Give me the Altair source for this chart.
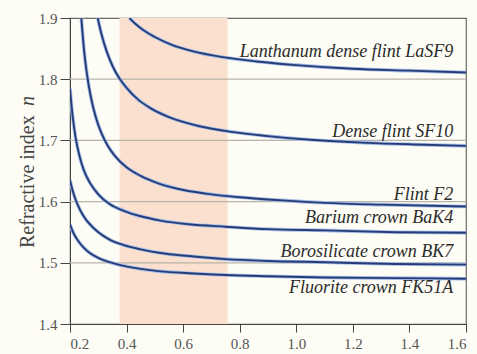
import altair as alt
import pandas as pd

# ---- data (wavelength in µm, refractive index n) ----
glasses = ["LaSF9", "SF10", "F2", "BaK4", "BK7", "FK51A"]

lasf9_x = [0.410, 0.43, 0.46, 0.50, 0.56, 0.64, 0.74, 0.86, 1.00, 1.20, 1.40, 1.60]
lasf9_n = [1.900, 1.891, 1.880, 1.869, 1.856, 1.845, 1.836, 1.829, 1.823, 1.817, 1.814, 1.811]

sf10_x = [0.298, 0.31, 0.33, 0.35, 0.375, 0.40, 0.44, 0.48, 0.55, 0.65, 0.77, 0.90, 1.05, 1.25, 1.45, 1.60]
sf10_n = [1.900, 1.876, 1.845, 1.822, 1.801, 1.786, 1.767, 1.754, 1.738, 1.724, 1.714, 1.707, 1.701, 1.696, 1.693, 1.691]

f2_x = [0.240, 0.25, 0.26, 0.275, 0.29, 0.31, 0.335, 0.36, 0.40, 0.45, 0.50, 0.58, 0.68, 0.80, 0.95, 1.10, 1.30, 1.60]
f2_n = [1.900, 1.846, 1.808, 1.768, 1.740, 1.713, 1.690, 1.674, 1.656, 1.642, 1.632, 1.621, 1.613, 1.607, 1.602, 1.598, 1.595, 1.592]

bak4_x = [0.200, 0.205, 0.21, 0.22, 0.235, 0.25, 0.27, 0.30, 0.34, 0.39, 0.45, 0.52, 0.62, 0.75, 0.90, 1.10, 1.35, 1.60]
bak4_n = [1.785, 1.758, 1.737, 1.704, 1.672, 1.650, 1.631, 1.612, 1.596, 1.585, 1.576, 1.569, 1.563, 1.559, 1.555, 1.553, 1.550, 1.549]

bk7_x = [0.200, 0.21, 0.22, 0.235, 0.25, 0.27, 0.30, 0.34, 0.39, 0.45, 0.52, 0.62, 0.75, 0.90, 1.10, 1.35, 1.60]
bk7_n = [1.635, 1.617, 1.603, 1.587, 1.575, 1.563, 1.550, 1.538, 1.529, 1.522, 1.516, 1.511, 1.506, 1.503, 1.501, 1.498, 1.497]

fk51a_x = [0.200, 0.21, 0.22, 0.235, 0.25, 0.27, 0.30, 0.34, 0.39, 0.45, 0.52, 0.62, 0.75, 0.90, 1.10, 1.35, 1.60]
fk51a_n = [1.563, 1.551, 1.542, 1.532, 1.524, 1.516, 1.508, 1.501, 1.495, 1.490, 1.486, 1.483, 1.480, 1.478, 1.476, 1.475, 1.474]

label_texts = ["Lanthanum dense flint LaSF9", "Dense flint SF10", "Flint F2",
               "Barium crown BaK4", "Borosilicate crown BK7", "Fluorite crown FK51A"]
label_x = [1.555] * 6
label_n = [1.844, 1.714, 1.611, 1.573, 1.518, 1.459]

y_title_parts = ["Refractive index", "n"]
visible_band = [0.375, 0.757]
x_ticks = [0.2, 0.4, 0.6, 0.8, 1.0, 1.2, 1.4, 1.6]
y_ticks = [1.4, 1.5, 1.6, 1.7, 1.8, 1.9]
grid_n = [1.5, 1.6, 1.7, 1.8]

# ---- tables ----
series = {
    "LaSF9": (lasf9_x, lasf9_n), "SF10": (sf10_x, sf10_n), "F2": (f2_x, f2_n),
    "BaK4": (bak4_x, bak4_n), "BK7": (bk7_x, bk7_n), "FK51A": (fk51a_x, fk51a_n),
}
rows = []
for g in glasses:
    xs, ns = series[g]
    rows += [{"glass": g, "wl": x, "n": n} for x, n in zip(xs, ns)]
curves = pd.DataFrame(rows)
labels = pd.DataFrame({"text": label_texts, "wl": label_x, "n": label_n})
band = pd.DataFrame({"x1": [visible_band[0]], "x2": [visible_band[1]]})
grid = pd.DataFrame({"n": grid_n})

serif = "Liberation Serif"
xscale = alt.Scale(domain=[0.2, 1.6], nice=False, zero=False)
yscale = alt.Scale(domain=[1.4, 1.9], nice=False, zero=False)

x_axis = alt.Axis(values=x_ticks, format=".1f", grid=False, tickSize=8, tickColor="#444",
                  domainColor="#444", labelFont=serif, labelFontSize=15, labelColor="#555",
                  labelPadding=4, title=None)
y_axis = alt.Axis(values=y_ticks, format=".1f", grid=False, tickSize=10, tickColor="#444",
                  domainColor="#444", labelFont=serif, labelFontSize=15, labelColor="#555",
                  labelPadding=3, title=None)

band_layer = alt.Chart(band).mark_rect(color="#fbe0cf").encode(
    x=alt.X("x1:Q", scale=xscale, axis=x_axis),
    x2="x2:Q",
    y=alt.value(0), y2=alt.value(306),
)

grid_layer = alt.Chart(grid).mark_rule(color="#b9b4aa", strokeWidth=1.2).encode(
    y=alt.Y("n:Q", scale=yscale, axis=y_axis),
)

halo = alt.Chart(curves).mark_line(color="#a3bfe8", strokeWidth=3.6, interpolate="monotone", clip=True).encode(
    x=alt.X("wl:Q", scale=xscale), y=alt.Y("n:Q", scale=yscale), detail="glass:N", order="wl:Q"
)
lines = alt.Chart(curves).mark_line(color="#283c78", strokeWidth=1.9, interpolate="monotone", clip=True).encode(
    x=alt.X("wl:Q", scale=xscale), y=alt.Y("n:Q", scale=yscale), detail="glass:N", order="wl:Q"
)

text_layer = alt.Chart(labels).mark_text(
    font=serif, fontSize=18, fontStyle="italic", align="right", baseline="middle", color="#2b2b2b"
).encode(x=alt.X("wl:Q", scale=xscale), y=alt.Y("n:Q", scale=yscale), text="text:N")

# y-axis title: regular words + italic "n"
title_main = alt.Chart(pd.DataFrame({"t": [y_title_parts[0]]})).mark_text(
    font=serif, fontSize=20, angle=270, align="left", baseline="middle", color="#444"
).encode(x=alt.value(-42), y=alt.value(230), text="t:N")
title_n = alt.Chart(pd.DataFrame({"t": [y_title_parts[1]]})).mark_text(
    font=serif, fontSize=20, fontStyle="italic", angle=270, align="left", baseline="middle", color="#444"
).encode(x=alt.value(-42), y=alt.value(88), text="t:N")

chart = alt.layer(band_layer, grid_layer, halo, lines, text_layer, title_main, title_n).properties(
    width=396, height=306,
    autosize=alt.AutoSizeParams(type="none"),
    padding={"left": 70, "top": 18, "right": 11, "bottom": 30},
    background="#fdfcf5",
).configure_view(stroke="#6a6a6a", strokeWidth=1.2)

chart.save("out.html", embed_options={"renderer": "svg", "actions": False})
